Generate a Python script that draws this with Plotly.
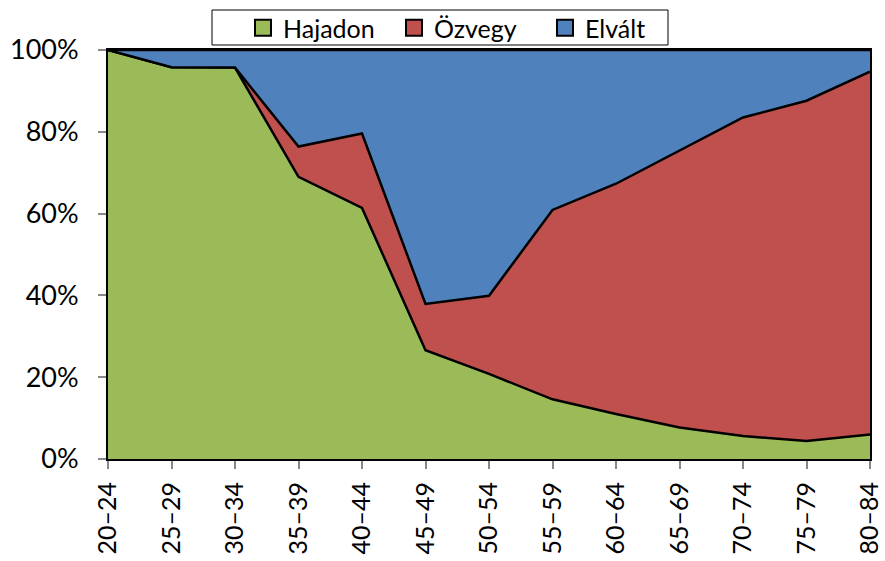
import plotly.graph_objects as go

categories = ["20–24", "25–29", "30–34", "35–39", "40–44", "45–49", "50–54",
              "55–59", "60–64", "65–69", "70–74", "75–79", "80–84"]
hajadon = [100.0, 95.8, 95.7, 69.0, 61.4, 26.6, 20.8, 14.6, 11.0, 7.7, 5.6, 4.4, 6.0]
ozvegy  = [0.0, 0.0, 0.0, 7.4, 18.2, 11.3, 19.1, 46.3, 56.3, 67.7, 77.9, 83.2, 88.7]
elvalt  = [0.0, 4.2, 4.3, 23.6, 20.4, 62.1, 60.1, 39.1, 32.7, 24.6, 16.5, 12.4, 5.3]
ytick_vals = [0, 20, 40, 60, 80, 100]
ytick_text = ["0%", "20%", "40%", "60%", "80%", "100%"]

names = ["Hajadon", "Özvegy", "Elvált"]
colors = ["#9BBB59", "#C0504D", "#4F81BD"]
series = [hajadon, ozvegy, elvalt]

x = list(range(len(categories)))
FONT = "Lato"
W, H = 885, 561
ML, MR, MT, MB = 108, 15, 50, 102
PW, PH = W - ML - MR, H - MT - MB

fig = go.Figure()
for name, col, vals in zip(names, colors, series):
    fig.add_trace(go.Scatter(
        x=x, y=vals, name=name, mode="lines", stackgroup="one",
        line=dict(color="black", width=2.5), fillcolor=col,
        showlegend=False, hoverinfo="skip"))
for name, col in zip(names, colors):
    fig.add_trace(go.Scatter(
        x=[None], y=[None], name=name, mode="markers",
        marker=dict(symbol="square", size=16, color=col,
                    line=dict(color="black", width=2))))

# legend frame
fig.add_shape(type="rect", xref="paper", yref="paper",
              x0=(212 - ML) / PW, x1=(668 - ML) / PW,
              y0=(H - MB - 45) / PH, y1=(H - MB - 10) / PH,
              line=dict(color="black", width=1), fillcolor="white", layer="above")

fig.update_layout(
    width=W, height=H,
    margin=dict(l=ML, r=MR, t=MT, b=MB, autoexpand=False),
    paper_bgcolor="white", plot_bgcolor="white",
    font=dict(family=FONT, color="black"),
    legend=dict(orientation="h", xref="container", yref="container",
                x=243 / W, xanchor="left", y=1 - 28 / H, yanchor="middle",
                borderwidth=0, font=dict(size=25, family=FONT),
                itemwidth=30, bgcolor="rgba(0,0,0,0)", traceorder="normal",
                entrywidth=106, entrywidthmode="pixels"),
    xaxis=dict(range=[0, 12], tickmode="array", tickvals=x, ticktext=categories,
               tickangle=-90, tickfont=dict(size=25, family=FONT), ticklabelstandoff=3,
               ticklabeloverflow="allow",
               ticks="outside", ticklen=8, tickcolor="#888", tickwidth=1.5,
               showline=True, linecolor="black", linewidth=2, mirror=True,
               showgrid=False, zeroline=False, automargin=False),
    yaxis=dict(range=[0, 100], tickmode="array", tickvals=ytick_vals, ticktext=ytick_text,
               tickfont=dict(size=27, family=FONT), ticklabelstandoff=14,
               ticks="outside", ticklen=8, tickcolor="#888", tickwidth=1.5,
               showline=True, linecolor="black", linewidth=2, mirror=True,
               showgrid=False, zeroline=False, automargin=False),
)

fig.write_html("out.html", config={"displayModeBar": False},
               post_script="document.body.style.margin='0';")
